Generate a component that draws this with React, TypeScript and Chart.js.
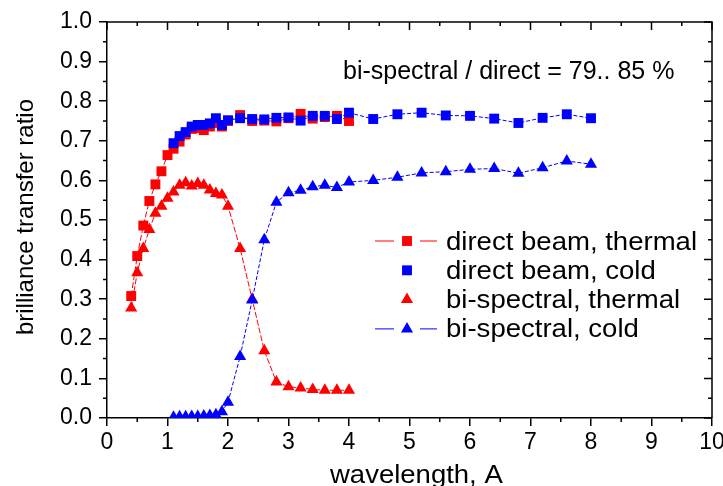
import React, { useEffect, useRef } from 'react';
import { Chart, registerables } from 'chart.js';

Chart.register(...registerables);

// Wavelength grid (Å) and brilliance transfer ratios for each configuration
const directThermalX = [0.4, 0.5, 0.6, 0.7, 0.8, 0.9, 1.0, 1.1, 1.2, 1.3, 1.4, 1.5, 1.6, 1.7, 1.8, 1.9, 2.0, 2.2, 2.4, 2.6, 2.8, 3.0, 3.2, 3.4, 3.6, 3.8, 4.0];
const directThermalY = [0.308, 0.409, 0.486, 0.548, 0.590, 0.623, 0.664, 0.680, 0.698, 0.716, 0.730, 0.732, 0.727, 0.736, 0.745, 0.736, 0.750, 0.765, 0.750, 0.751, 0.749, 0.757, 0.768, 0.756, 0.760, 0.763, 0.750];

const directColdX = [1.1, 1.2, 1.3, 1.4, 1.5, 1.6, 1.7, 1.8, 1.9, 2.0, 2.2, 2.4, 2.6, 2.8, 3.0, 3.2, 3.4, 3.6, 3.8, 4.0, 4.4, 4.8, 5.2, 5.6, 6.0, 6.4, 6.8, 7.2, 7.6, 8.0];
const directColdY = [0.694, 0.712, 0.722, 0.736, 0.740, 0.740, 0.744, 0.757, 0.740, 0.752, 0.757, 0.755, 0.754, 0.758, 0.759, 0.751, 0.763, 0.763, 0.755, 0.771, 0.755, 0.767, 0.771, 0.764, 0.763, 0.756, 0.745, 0.758, 0.767, 0.757];

const biThermalX = [0.4, 0.5, 0.6, 0.7, 0.8, 0.9, 1.0, 1.1, 1.2, 1.3, 1.4, 1.5, 1.6, 1.7, 1.8, 1.9, 2.0, 2.2, 2.4, 2.6, 2.8, 3.0, 3.2, 3.4, 3.6, 3.8, 4.0];
const biThermalY = [0.278, 0.367, 0.428, 0.476, 0.517, 0.535, 0.555, 0.571, 0.588, 0.594, 0.586, 0.592, 0.588, 0.576, 0.567, 0.563, 0.535, 0.428, 0.300, 0.170, 0.091, 0.079, 0.076, 0.072, 0.070, 0.070, 0.070];

const biColdX = [1.1, 1.2, 1.3, 1.4, 1.5, 1.6, 1.7, 1.8, 1.9, 2.0, 2.2, 2.4, 2.6, 2.8, 3.0, 3.2, 3.4, 3.6, 3.8, 4.0, 4.4, 4.8, 5.2, 5.6, 6.0, 6.4, 6.8, 7.2, 7.6, 8.0];
const biColdY = [0.002, 0.003, 0.003, 0.004, 0.004, 0.005, 0.006, 0.008, 0.016, 0.040, 0.155, 0.298, 0.450, 0.545, 0.569, 0.575, 0.584, 0.588, 0.582, 0.596, 0.600, 0.608, 0.619, 0.622, 0.628, 0.630, 0.618, 0.632, 0.649, 0.641];

const seriesLabels = ['direct beam, thermal', 'direct beam, cold', 'bi-spectral, thermal', 'bi-spectral, cold'];
const xTitle = 'wavelength, A';
const yTitle = 'brilliance transfer ratio';
const noteText = 'bi-spectral / direct = 79.. 85 %';

const RED = '#ff0000';
const BLUE = '#0000ff';
const FONT = '"Liberation Sans", Arial, sans-serif';
const MARKER_R = 7;

const toPoints = (xs: number[], ys: number[]) => xs.map((x, i) => ({ x, y: ys[i] }));

// Mirrored inward ticks on top/right, minor ticks everywhere, closing frame lines
const framePlugin = {
  id: 'frame',
  afterDraw(chart: any) {
    const { ctx, chartArea, scales } = chart;
    const { left, right, top, bottom } = chartArea;
    const xs = scales.x;
    const ys = scales.y;
    ctx.save();
    ctx.strokeStyle = '#000';
    ctx.lineWidth = 1.5;
    ctx.beginPath();
    ctx.moveTo(left, top);
    ctx.lineTo(right, top);
    ctx.lineTo(right, bottom);
    ctx.stroke();

    ctx.beginPath();
    for (let v = 0; v <= 10; v += 1) {
      const px = xs.getPixelForValue(v);
      ctx.moveTo(px, top);
      ctx.lineTo(px, top + 8);
      if (v < 10) {
        const pm = xs.getPixelForValue(v + 0.5);
        ctx.moveTo(pm, top);
        ctx.lineTo(pm, top + 4);
        ctx.moveTo(pm, bottom);
        ctx.lineTo(pm, bottom + 4);
      }
    }
    for (let i = 0; i <= 10; i += 1) {
      const py = ys.getPixelForValue(i / 10);
      ctx.moveTo(right, py);
      ctx.lineTo(right - 8, py);
      if (i < 10) {
        const pm = ys.getPixelForValue(i / 10 + 0.05);
        ctx.moveTo(right, pm);
        ctx.lineTo(right - 4, pm);
        ctx.moveTo(left, pm);
        ctx.lineTo(left - 4, pm);
      }
    }
    ctx.stroke();
    ctx.restore();
  },
};

function drawMarker(ctx: CanvasRenderingContext2D, kind: string, x: number, y: number, color: string) {
  ctx.fillStyle = color;
  ctx.beginPath();
  if (kind === 'rect') {
    const s = MARKER_R * Math.SQRT1_2;
    ctx.rect(x - s, y - s, 2 * s, 2 * s);
  } else {
    const r = MARKER_R;
    ctx.moveTo(x, y - r);
    ctx.lineTo(x + r * Math.sin(Math.PI * 2 / 3), y + r / 2);
    ctx.lineTo(x - r * Math.sin(Math.PI * 2 / 3), y + r / 2);
    ctx.closePath();
  }
  ctx.fill();
}

// Axis titles, ratio note and the in-plot legend
const textPlugin = {
  id: 'texts',
  afterDraw(chart: any) {
    const { ctx } = chart;
    ctx.save();
    ctx.fillStyle = '#000';
    ctx.textBaseline = 'alphabetic';

    ctx.font = `25px ${FONT}`;
    ctx.textAlign = 'left';
    ctx.fillText(noteText, 343, 79);

    ctx.save();
    ctx.translate(330, 483);
    ctx.scale(1.1, 1);
    ctx.font = `25px ${FONT}`;
    ctx.fillText(xTitle, 0, 0);
    ctx.restore();

    ctx.save();
    ctx.translate(33, 217);
    ctx.rotate(-Math.PI / 2);
    ctx.textAlign = 'center';
    ctx.font = `24px ${FONT}`;
    ctx.fillText(yTitle, 0, 0);
    ctx.restore();

    const rows = [
      { color: RED, kind: 'rect', line: true },
      { color: BLUE, kind: 'rect', line: false },
      { color: RED, kind: 'triangle', line: false },
      { color: BLUE, kind: 'triangle', line: true },
    ];
    rows.forEach((row, i) => {
      const cy = 241 + i * 29.3;
      if (row.line) {
        ctx.strokeStyle = row.color;
        ctx.lineWidth = 1;
        ctx.beginPath();
        ctx.moveTo(375, cy);
        ctx.lineTo(394, cy);
        ctx.moveTo(420, cy);
        ctx.lineTo(437, cy);
        ctx.stroke();
      }
      drawMarker(ctx, row.kind, 407, cy, row.color);
      ctx.save();
      ctx.translate(446, cy + 8.5);
      ctx.scale(1.08, 1);
      ctx.fillStyle = '#000';
      ctx.font = `25.5px ${FONT}`;
      ctx.textAlign = 'left';
      ctx.fillText(seriesLabels[i], 0, 0);
      ctx.restore();
    });
    ctx.restore();
  },
};

function makeDataset(label: string, xs: number[], ys: number[], color: string, style: string, dash: number[], order: number) {
  return {
    label,
    data: toPoints(xs, ys),
    borderColor: color,
    backgroundColor: color,
    borderWidth: 1,
    borderDash: dash,
    pointStyle: style,
    pointRadius: MARKER_R,
    pointBorderWidth: 0,
    pointBackgroundColor: color,
    pointBorderColor: color,
    showLine: true,
    tension: 0,
    order,
  };
}

export default function App() {
  const canvasRef = useRef<HTMLCanvasElement | null>(null);

  useEffect(() => {
    const canvas = canvasRef.current;
    if (!canvas) return;
    const chart = new Chart(canvas, {
      type: 'scatter',
      data: {
        datasets: [
          makeDataset(seriesLabels[0], directThermalX, directThermalY, RED, 'rect', [6, 2], 4),
          makeDataset(seriesLabels[1], directColdX, directColdY, BLUE, 'rect', [4, 2], 3),
          makeDataset(seriesLabels[2], biThermalX, biThermalY, RED, 'triangle', [6, 2], 2),
          makeDataset(seriesLabels[3], biColdX, biColdY, BLUE, 'triangle', [4, 2], 1),
        ] as any,
      },
      options: {
        animation: false,
        responsive: false,
        devicePixelRatio: 1,
        layout: { padding: { top: 22, right: 11, bottom: 0, left: 0 } },
        plugins: {
          legend: { display: false },
          tooltip: { enabled: false },
        },
        scales: {
          x: {
            type: 'linear',
            min: 0,
            max: 10,
            afterFit(scale: any) {
              scale.height = 68;
              scale.paddingLeft = 0;
              scale.paddingRight = 0;
            },
            border: { display: true, color: '#000', width: 1.5 },
            grid: { display: true, drawOnChartArea: false, drawTicks: true, tickLength: 8, color: '#000', lineWidth: 1.5 },
            ticks: {
              stepSize: 1,
              color: '#000',
              padding: 3,
              maxRotation: 0,
              font: { family: FONT, size: 23 },
              callback: (v: any) => String(v),
            },
          },
          y: {
            type: 'linear',
            min: 0,
            max: 1,
            afterFit(scale: any) {
              scale.width = 107;
              scale.paddingTop = 0;
              scale.paddingBottom = 0;
            },
            border: { display: true, color: '#000', width: 1.5 },
            grid: { display: true, drawOnChartArea: false, drawTicks: true, tickLength: 8, color: '#000', lineWidth: 1.5 },
            ticks: {
              stepSize: 0.1,
              color: '#000',
              padding: 7,
              font: { family: FONT, size: 23 },
              callback: (v: any) => Number(v).toFixed(1),
            },
          },
        },
      } as any,
      plugins: [framePlugin, textPlugin],
    });
    return () => chart.destroy();
  }, []);

  return (
    <div style={{ position: 'fixed', left: 0, top: 0, width: 723, height: 486, background: '#fff', overflow: 'hidden' }}>
      <canvas ref={canvasRef} width={723} height={486} style={{ display: 'block' }} />
    </div>
  );
}
